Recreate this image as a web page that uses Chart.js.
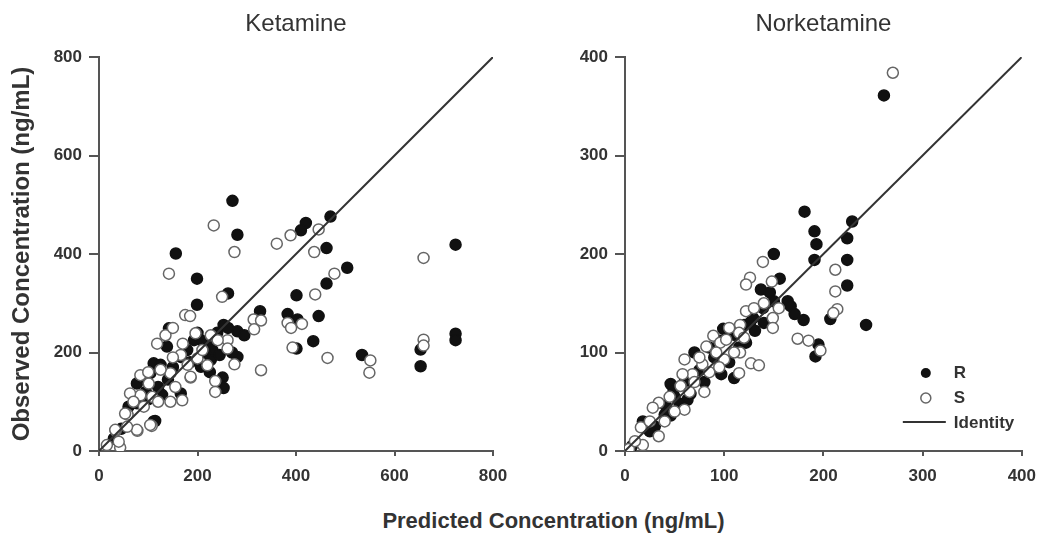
<!DOCTYPE html>
<html>
<head>
<meta charset="utf-8">
<script src="https://cdn.jsdelivr.net/npm/chart.js@4.4.1/dist/chart.umd.min.js"></script>
<style>
  html, body { margin: 0; background: #fff; overflow: hidden; }
  #wrap { position: relative; width: 1039px; height: 535px; overflow: hidden; font-family: 'Liberation Sans', Arial, sans-serif; }
  .panel { position: absolute; top: 0; height: 490px; }
  #xtitle { position: absolute; left: 0; top: 508px; width: 1107px; text-align: center;
            font: bold 22px 'Liberation Sans', Arial, sans-serif; color: #333; }
</style>
</head>
<body>
<div id="wrap">
  <div class="panel" style="left:0; width:520px;"><canvas id="ket"></canvas></div>
  <div class="panel" style="left:520px; width:526px;"><canvas id="nor"></canvas></div>
  <div id="xtitle">Predicted Concentration (ng/mL)</div>
</div>
<script>
// [predicted, observed] pairs
const ketamineR = [
  [271,508],[281,439],[156,401],[199,350],[199,297],[262,320],[420,463],[410,448],[470,476],[462,412],
  [504,372],[462,340],[401,316],[446,274],[327,284],[383,278],[403,267],[435,223],[401,208],[534,195],
  [653,172],[653,206],[724,419],[724,238],[724,225],[253,256],[281,243],[295,235],[281,191],[251,149],
  [253,128],[142,249],[114,61],[138,212],[111,178],[104,158],[77,137],[128,114],[166,117],[77,97],
  [111,60],[57,76],[207,171],[227,185],[193,225],[207,225],[220,218],[166,191],[179,205],[240,240],
  [262,250],[230,205],[215,200],[150,170],[95,120],[120,130],[88,150],[60,90],[100,105],[200,240],
  [245,195],[225,160],[185,180],[140,145],[45,45],[30,25],[230,225],[270,200],[125,175]
];
const ketamineS = [
  [233,458],[142,360],[275,404],[361,421],[389,438],[446,450],[437,404],[478,360],[439,318],[250,313],
  [175,276],[185,274],[314,267],[329,265],[383,260],[412,258],[390,250],[315,247],[393,210],[464,189],
  [329,164],[551,184],[549,159],[659,392],[659,226],[659,214],[275,176],[236,142],[236,120],[186,149],
  [107,51],[78,41],[43,7],[58,74],[34,41],[135,235],[118,218],[196,239],[227,235],[261,225],
  [261,208],[241,225],[200,188],[166,195],[220,174],[186,151],[145,158],[101,137],[84,154],[84,113],
  [63,117],[91,90],[108,110],[145,100],[169,103],[53,76],[104,53],[77,43],[57,49],[33,43],
  [40,19],[16,12],[170,218],[150,190],[125,165],[210,205],[180,175],[155,130],[120,100],[100,160],
  [70,100],[150,250]
];
const norketamineR = [
  [261,361],[181,243],[191,223],[193,210],[191,194],[229,233],[224,216],[224,194],[224,168],[243,128],
  [207,134],[150,200],[156,175],[137,164],[146,161],[164,152],[167,147],[171,139],[180,133],[139,145],
  [195,108],[192,96],[110,74],[99,124],[103,121],[129,135],[126,130],[131,122],[122,110],[99,91],
  [97,78],[70,100],[63,52],[66,58],[46,68],[49,62],[41,46],[40,37],[46,36],[43,42],
  [18,30],[7,5],[85,105],[90,95],[110,118],[115,105],[75,82],[60,70],[50,55],[55,48],
  [30,25],[25,20],[150,152],[140,130],[80,70],[105,90],[120,128],[95,112]
];
const norketamineS = [
  [270,384],[139,192],[126,176],[122,169],[148,172],[212,184],[212,162],[214,144],[210,140],[174,114],
  [185,112],[197,102],[149,135],[149,125],[122,142],[116,128],[115,120],[116,100],[127,89],[135,87],
  [115,79],[89,117],[96,110],[60,93],[82,106],[78,88],[68,78],[58,78],[56,66],[60,42],
  [34,49],[28,44],[34,15],[16,24],[18,6],[4,2],[100,93],[102,113],[92,100],[105,125],
  [130,145],[110,100],[75,95],[65,60],[45,55],[50,40],[70,70],[85,80],[40,30],[25,30],
  [10,10],[140,150],[155,145],[120,115],[95,85],[80,60]
];
const ketamineAxisMax = 800;
const norketamineAxisMax = 400;

const FONT = "'Liberation Sans', Arial, sans-serif";
const AXIS = '#555';
const TEXT = '#333';

const toPts = (arr) => arr.map(([x, y]) => ({ x, y }));

// draws the R / S / Identity key in the lower right of the plot
const keyPlugin = {
  id: 'key',
  afterDatasetsDraw(chart, args, opts) {
    if (!opts.show) return;
    const { ctx, chartArea: a } = chart;
    ctx.save();
    ctx.font = `bold 17px ${FONT}`;
    ctx.textBaseline = 'middle';
    const mx = a.right - 96, tx = a.right - 68;
    ctx.beginPath();
    ctx.arc(mx, a.bottom - 78, 5, 0, Math.PI * 2);
    ctx.fillStyle = '#111';
    ctx.fill();
    ctx.beginPath();
    ctx.arc(mx, a.bottom - 53, 5, 0, Math.PI * 2);
    ctx.fillStyle = '#fff';
    ctx.fill();
    ctx.lineWidth = 1.5;
    ctx.strokeStyle = '#666';
    ctx.stroke();
    ctx.beginPath();
    ctx.moveTo(a.right - 119, a.bottom - 29);
    ctx.lineTo(a.right - 76, a.bottom - 29);
    ctx.lineWidth = 2;
    ctx.strokeStyle = '#333';
    ctx.stroke();
    ctx.fillStyle = TEXT;
    ctx.fillText('R', tx, a.bottom - 78);
    ctx.fillText('S', tx, a.bottom - 53);
    ctx.fillText('Identity', tx, a.bottom - 28);
    ctx.restore();
  },
};

function makePanel(id, title, rData, sData, max, opt) {
  return new Chart(document.getElementById(id), {
    type: 'scatter',
    data: {
      datasets: [
        { label: 'Identity', type: 'line', data: [{ x: 0, y: 0 }, { x: max, y: max }],
          borderColor: '#333', borderWidth: 2, pointRadius: 0, order: 0 },
        { label: 'S', data: toPts(sData), pointRadius: 5.5, borderWidth: 1.5,
          backgroundColor: '#fff', borderColor: '#666', order: 1 },
        { label: 'R', data: toPts(rData), pointRadius: 5.5, borderWidth: 1.5,
          backgroundColor: '#111', borderColor: '#111', order: 2 },
      ],
    },
    options: {
      responsive: true,
      maintainAspectRatio: false,
      animation: false,
      layout: { padding: { left: 0, right: opt.padRight, top: 0, bottom: 0 } },
      plugins: {
        legend: { display: false },
        tooltip: { enabled: false },
        title: { display: false },
        key: { show: opt.key },
      },
      scales: {
        // top axis only carries the panel title, centred over the plot area
        top: {
          type: 'linear', position: 'top', min: 0, max,
          ticks: { display: false },
          grid: { display: false },
          border: { display: false },
          title: { display: true, text: title, color: TEXT,
            font: { family: FONT, size: 24, weight: 'normal' }, padding: { top: 10, bottom: 0 } },
          afterFit: (s) => { s.height = 57; },
        },
        x: {
          type: 'linear', position: 'bottom', min: 0, max,
          ticks: { stepSize: max / 4, color: TEXT, padding: 10, font: { family: FONT, size: 17, weight: 'bold' } },
          grid: { drawOnChartArea: false, tickLength: 5, color: AXIS, lineWidth: 2 },
          border: { color: AXIS, width: 2 },
          afterFit: (s) => { s.height = 39; },
        },
        y: {
          type: 'linear', min: 0, max,
          ticks: { stepSize: max / 4, color: TEXT, padding: 7, font: { family: FONT, size: 17, weight: 'bold' } },
          grid: { drawOnChartArea: false, tickLength: 10, color: AXIS, lineWidth: 2 },
          border: { color: AXIS, width: 2 },
          title: { display: opt.yTitle, text: 'Observed Concentration (ng/mL)', color: TEXT,
            font: { family: FONT, size: 24, weight: 'bold' }, padding: { top: 8, bottom: 0 } },
          afterFit: (s) => { s.width = opt.yWidth; },
        },
      },
    },
    plugins: [keyPlugin],
  });
}

makePanel('ket', 'Ketamine', ketamineR, ketamineS, ketamineAxisMax,
  { padRight: 27, yWidth: 99, yTitle: true, key: false });
makePanel('nor', 'Norketamine', norketamineR, norketamineS, norketamineAxisMax,
  { padRight: 0, yWidth: 105, yTitle: false, key: true });
</script>
</body>
</html>
